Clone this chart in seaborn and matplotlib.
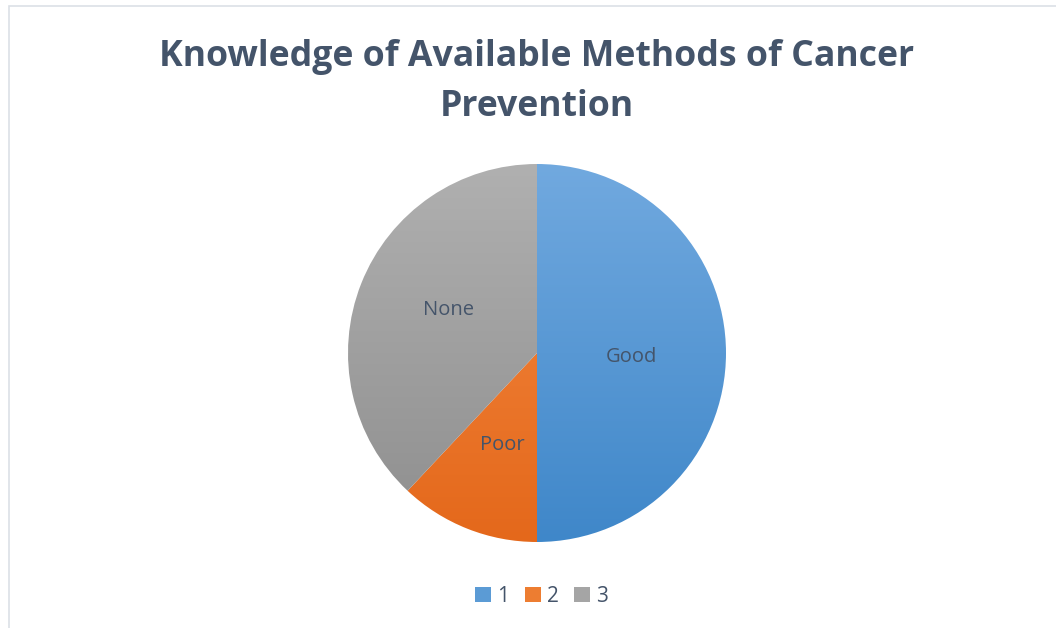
import numpy as np
import matplotlib
matplotlib.use("Agg")
import matplotlib.pyplot as plt
import seaborn as sns
from matplotlib.colors import LinearSegmentedColormap
from matplotlib.patches import Rectangle, Patch

# ---- data ----
categories = ["Good", "Poor", "None"]
legend_labels = ["1", "2", "3"]
values = [50, 12, 38]

light = ["#71A9DF", "#F58A42", "#B0B0B0"]
dark = ["#3F87C9", "#E4681B", "#8E8E8E"]
mid = ["#5B9BD5", "#ED7D31", "#A5A5A5"]

sns.set_theme(style="white")
plt.rcParams["font.family"] = ["Open Sans", "DejaVu Sans"]

fig = plt.figure(figsize=(10.56, 6.28), dpi=100)
fig.patch.set_facecolor("white")

# light frame like the Excel chart area
fig.patches.append(Rectangle((9 / 1056, -0.1), 1.2, 1.1 - 6 / 628,
                             transform=fig.transFigure, fill=False,
                             edgecolor="#DCE0E6", linewidth=1.2))

ax = fig.add_axes([(537 - 189) / 1056, 1 - (353 + 189) / 628, 378 / 1056, 378 / 628])
wedges, texts = ax.pie(values, labels=categories, startangle=90, counterclock=False,
                       labeldistance=0.5, colors=mid,
                       wedgeprops=dict(linewidth=0),
                       textprops=dict(color="#44546A", fontsize=14.5))

# vertical gradient fill, lighter at the top
grad = np.linspace(0, 1, 256).reshape(-1, 1)
for w, lo, hi in zip(wedges, light, dark):
    cmap = LinearSegmentedColormap.from_list("g", [lo, hi])
    im = ax.imshow(grad, cmap=cmap, extent=(-1, 1, -1, 1), origin="upper",
                   aspect="auto", zorder=1)
    im.set_clip_path(w)
    w.set_facecolor("none")

# Excel puts the None label a bit higher
texts[2].set_position((-0.47, 0.25))
for t in texts:
    t.set_zorder(5)
    t.set_ha("center")
    x, y = t.get_position()
    t.set_position((x, y - 0.02))

ax.set_xlim(-1, 1)
ax.set_ylim(-1, 1)
ax.set_aspect("equal")
ax.axis("off")

fig.text(0.5085, 1 - 82 / 628, "Knowledge of Available Methods of Cancer\nPrevention",
         ha="center", va="center", fontsize=25.7, fontweight="bold", color="#44546A",
         linespacing=1.52)

handles = [Patch(facecolor=c, edgecolor="none") for c in mid]
fig.legend(handles, legend_labels, loc="center", bbox_to_anchor=(0.513, 1 - 596 / 628),
           ncol=3, frameon=False, fontsize=15, labelcolor="#44546A",
           handlelength=0.75, handleheight=0.75, handletextpad=0.3, columnspacing=0.75)

fig.savefig("out.png", dpi=100, facecolor="white")
